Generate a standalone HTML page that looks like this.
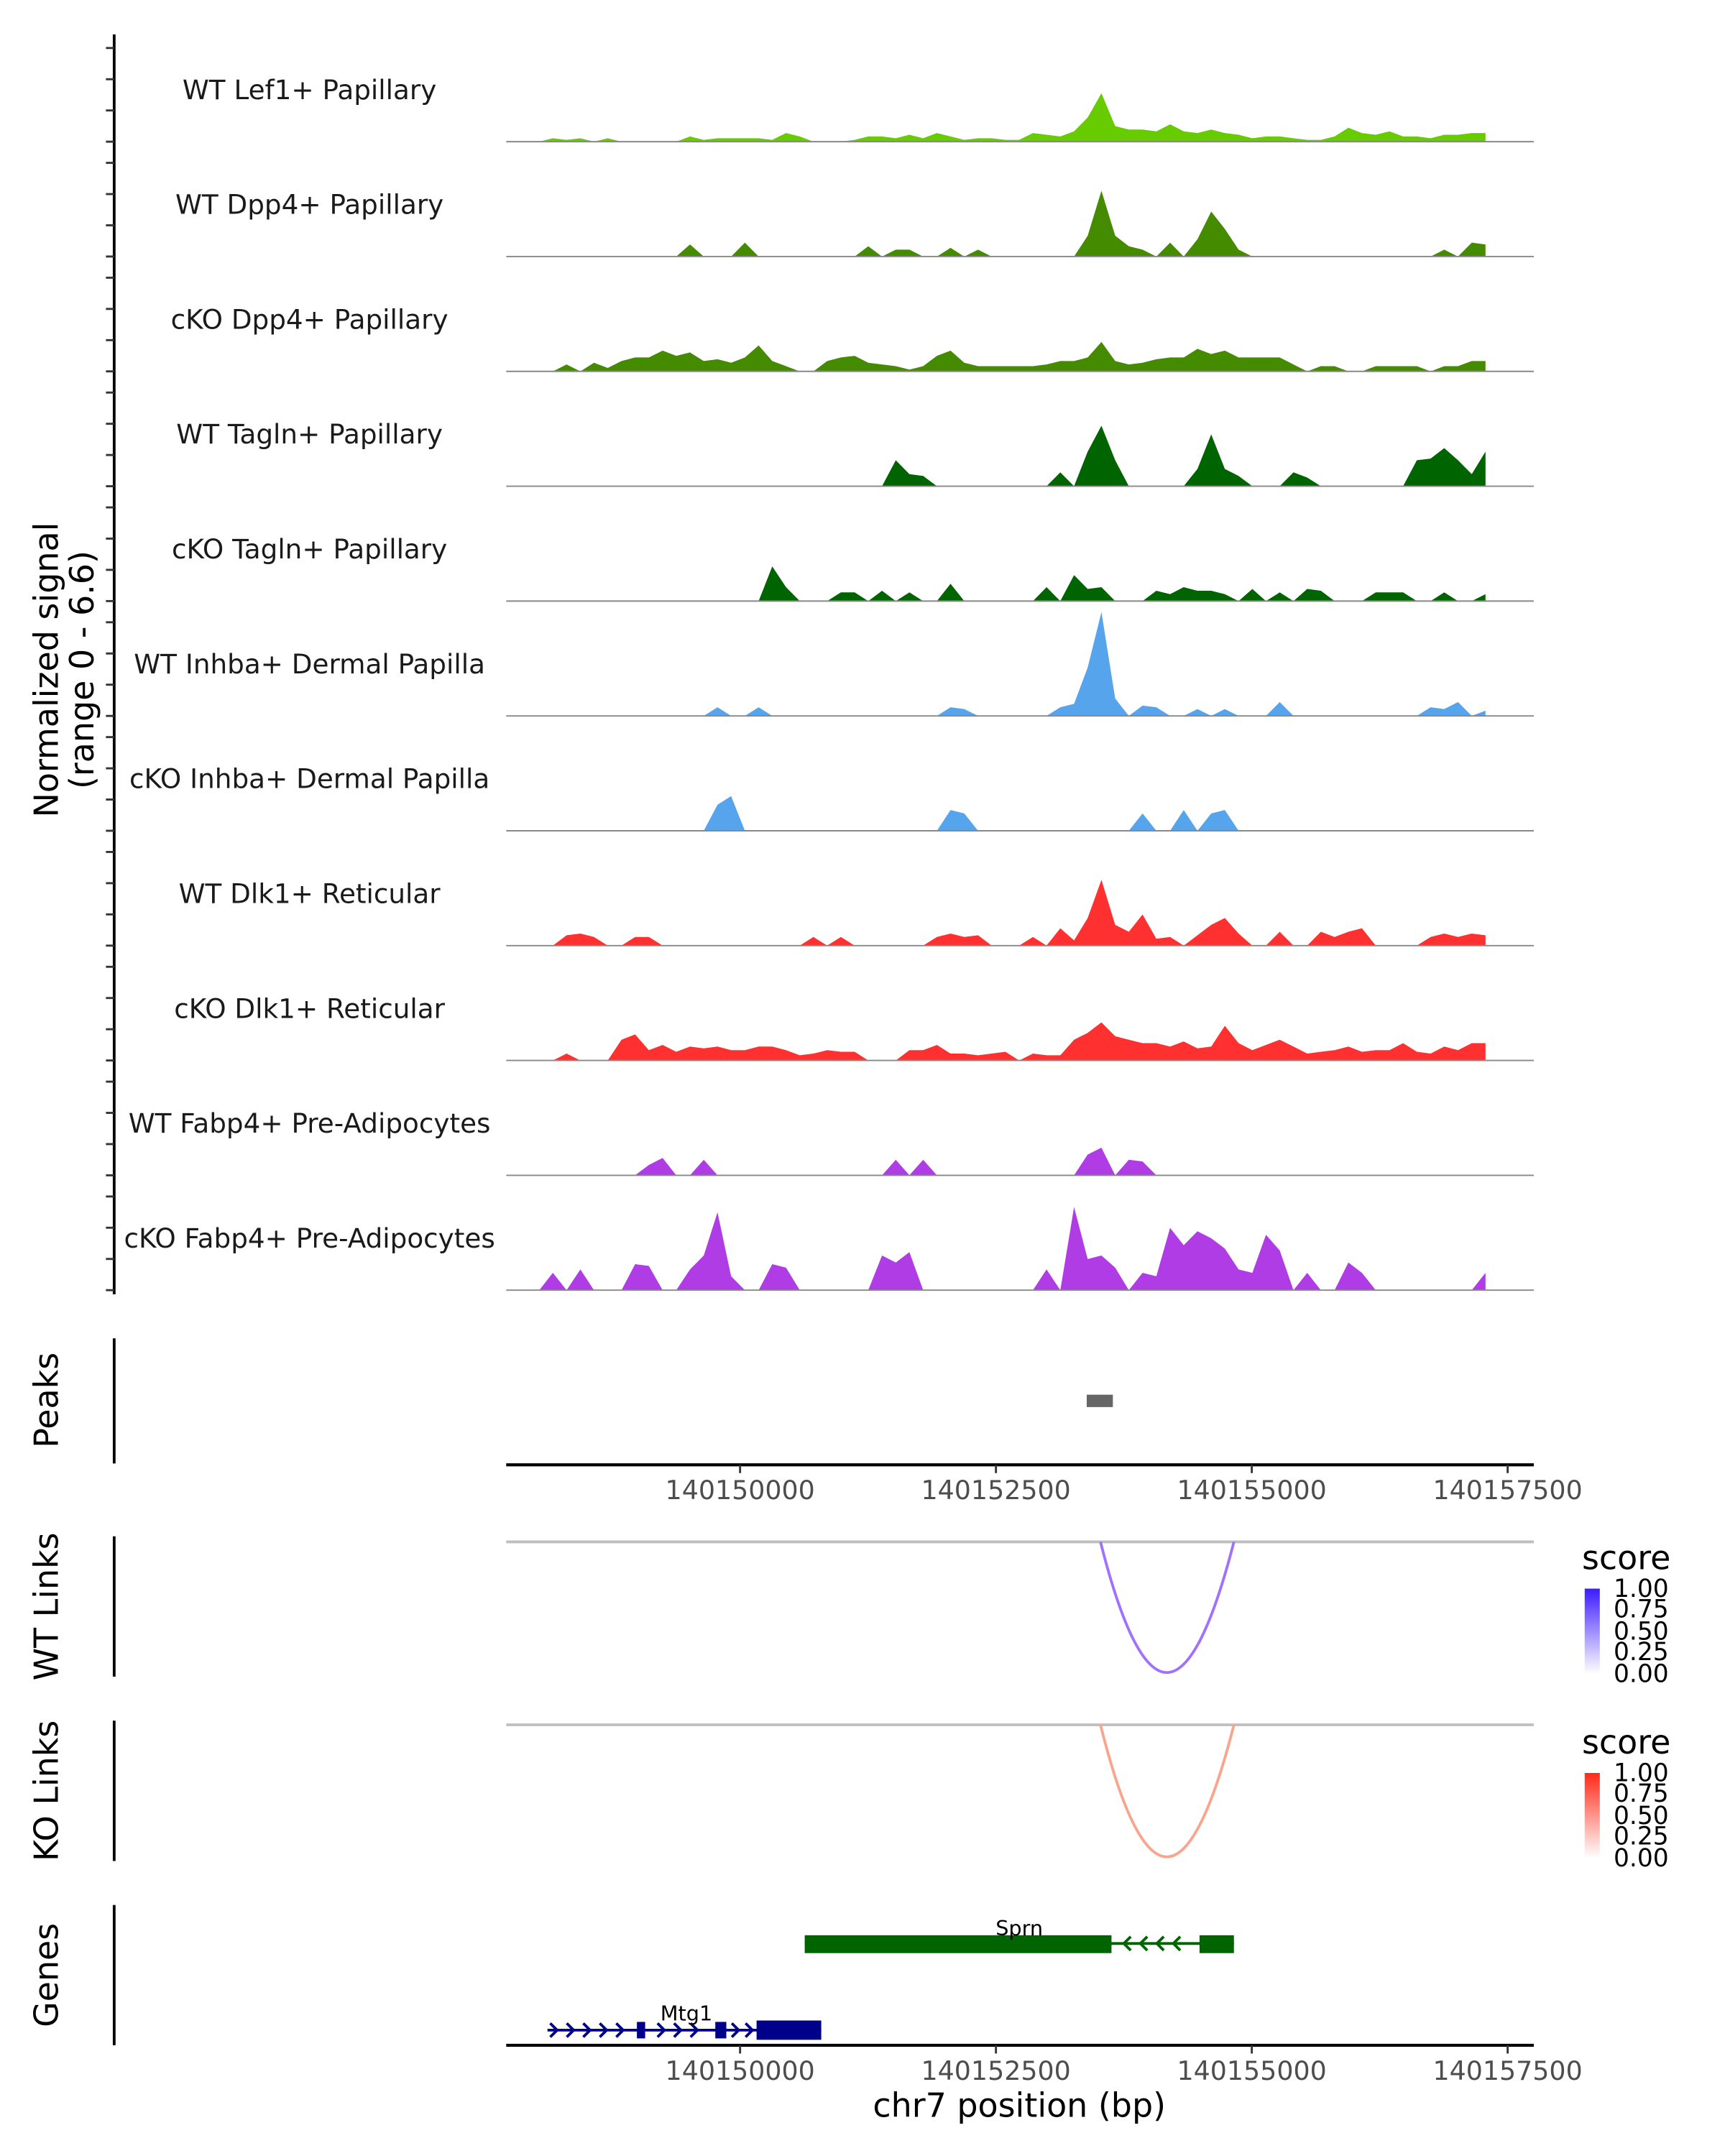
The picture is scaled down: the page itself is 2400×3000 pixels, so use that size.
<!DOCTYPE html>
<html><head><meta charset="utf-8"><style>
html,body{margin:0;padding:0;background:#fff;}
svg{display:block;font-family:"DejaVu Sans","Liberation Sans",sans-serif;}
</style></head><body>
<svg id="fig" width="2400" height="3000" viewBox="0 0 1254 1567.5" xmlns="http://www.w3.org/2000/svg">
<rect width="1254" height="1567.5" fill="#fff"/>
<g id="tracks"></g>
<g id="axes"></g>
<text transform="translate(42,487) rotate(-90)" text-anchor="middle" font-size="24" fill="#000">Normalized signal</text>
<text transform="translate(68,487) rotate(-90)" text-anchor="middle" font-size="24" fill="#000">(range 0 - 6.6)</text>

<line x1="83" y1="973" x2="83" y2="1064" stroke="#000" stroke-width="2"/>
<text transform="translate(42,1018) rotate(-90)" text-anchor="middle" font-size="24">Peaks</text>
<rect x="790" y="1014" width="19" height="9" fill="#666"/>

<line x1="83" y1="1117" x2="83" y2="1219" stroke="#000" stroke-width="2"/>
<text transform="translate(42,1168) rotate(-90)" text-anchor="middle" font-size="24">WT Links</text>
<line x1="368" y1="1121" x2="1115" y2="1121" stroke="#bebebe" stroke-width="2"/>
<path d="M800,1121 Q848,1311 897,1121" fill="none" stroke="#a070ff" stroke-width="2"/>
<text x="1150" y="1141" font-size="24">score</text>
<defs>
<linearGradient id="gb" x1="0" y1="1" x2="0" y2="0"><stop offset="0" stop-color="#fff"/><stop offset="1" stop-color="#3b1cff"/></linearGradient>
<linearGradient id="gr" x1="0" y1="1" x2="0" y2="0"><stop offset="0" stop-color="#fff"/><stop offset="1" stop-color="#ff2a1a"/></linearGradient>
</defs>
<rect x="1152" y="1155" width="11" height="62" fill="url(#gb)"/>
<g font-size="18" fill="#000">
<text x="1173" y="1161">1.00</text><text x="1173" y="1176">0.75</text><text x="1173" y="1192">0.50</text><text x="1173" y="1207">0.25</text><text x="1173" y="1223">0.00</text></g>

<line x1="83" y1="1251" x2="83" y2="1353" stroke="#000" stroke-width="2"/>
<text transform="translate(42,1302) rotate(-90)" text-anchor="middle" font-size="24">KO Links</text>
<line x1="368" y1="1254" x2="1115" y2="1254" stroke="#bebebe" stroke-width="2"/>
<path d="M800,1254 Q848,1446 897,1254" fill="none" stroke="#f9a58e" stroke-width="2"/>
<text x="1150" y="1275" font-size="24">score</text>
<rect x="1152" y="1289" width="11" height="62" fill="url(#gr)"/>
<g font-size="18" fill="#000">
<text x="1173" y="1295">1.00</text><text x="1173" y="1310">0.75</text><text x="1173" y="1326">0.50</text><text x="1173" y="1341">0.25</text><text x="1173" y="1357">0.00</text></g>

<line x1="83" y1="1385" x2="83" y2="1487" stroke="#000" stroke-width="2"/>
<text transform="translate(42,1436) rotate(-90)" text-anchor="middle" font-size="24">Genes</text>
<g fill="#006400" stroke="#006400">
<line x1="585" y1="1413" x2="897" y2="1413" stroke-width="2"/>
<rect x="585" y="1407" width="223" height="13" stroke="none"/>
<rect x="872" y="1407" width="25" height="13" stroke="none"/>
<path d="M822,1408 l-5,5 5,5 M834,1408 l-5,5 5,5 M846,1408 l-5,5 5,5 M858,1408 l-5,5 5,5" fill="none" stroke-width="2"/>
</g>
<text x="741" y="1407" text-anchor="middle" font-size="15">Sprn</text>
<g fill="#00008b" stroke="#00008b">
<line x1="398" y1="1476" x2="597" y2="1476" stroke-width="2"/>
<rect x="463" y="1470" width="6" height="12" stroke="none"/>
<rect x="520" y="1470" width="8" height="12" stroke="none"/>
<rect x="550" y="1469" width="47" height="14" stroke="none"/>
<path d="M400,1471 l5,5 -5,5 M412,1471 l5,5 -5,5 M424,1471 l5,5 -5,5 M436,1471 l5,5 -5,5 M448,1471 l5,5 -5,5 M478,1471 l5,5 -5,5 M490,1471 l5,5 -5,5 M502,1471 l5,5 -5,5 M532,1471 l5,5 -5,5 M542,1471 l5,5 -5,5" fill="none" stroke-width="2"/>
</g>
<text x="499" y="1469" text-anchor="middle" font-size="15">Mtg1</text>
<text x="741" y="1539" text-anchor="middle" font-size="24">chr7 position (bp)</text>
</svg>
<script>
const trackNames=["WT Lef1+ Papillary","WT Dpp4+ Papillary","cKO Dpp4+ Papillary","WT Tagln+ Papillary","cKO Tagln+ Papillary","WT Inhba+ Dermal Papilla","cKO Inhba+ Dermal Papilla","WT Dlk1+ Reticular","cKO Dlk1+ Reticular","WT Fabp4+ Pre-Adipocytes","cKO Fabp4+ Pre-Adipocytes"];
const trackColors=["#66cc00","#458b00","#458b00","#006400","#006400","#56a5ec","#56a5ec","#ff3030","#ff3030","#b03ce6","#b03ce6"];
const xTicks=[140150000,140152500,140155000,140157500];
const binStart=140147903, binSize=134;
const t1=[0,0,0.2,0.1,0.2,0,0.2,0,0,0, 0,0,0.3,0.1,0.2,0.2,0.2,0.2,0.1,0.5, 0.3,0,0,0,0.1,0.3,0.3,0.2,0.4,0.2, 0.5,0.3,0.1,0.2,0.2,0.1,0.1,0.5,0.4,0.3, 0.6,1.4,2.8,0.9,0.7,0.7,0.6,1.0,0.6,0.5, 0.7,0.5,0.4,0.2,0.3,0.3,0.2,0.1,0.1,0.3, 0.8,0.5,0.4,0.6,0.3,0.3,0.2,0.4,0.4,0.5, 0.5];
const t2=[0,0,0,0,0,0,0,0,0,0, 0,0,0.7,0,0,0,0.8,0,0,0, 0,0,0,0,0,0.6,0,0.4,0.4,0, 0,0.5,0,0.4,0,0,0,0,0,0, 0,1.2,3.8,1.2,0.6,0.4,0,0.8,0,1.0, 2.6,1.6,0.4,0,0,0,0,0,0,0, 0,0,0,0,0,0,0,0.4,0,0.8, 0.7];
const t3=[0,0,0,0.4,0,0.5,0.2,0.6,0.8,0.8, 1.2,0.9,1.1,0.6,0.7,0.5,0.8,1.5,0.6,0.3, 0,0,0.6,0.8,0.9,0.5,0.4,0.3,0.1,0.3, 0.9,1.2,0.5,0.3,0.3,0.3,0.3,0.3,0.4,0.6, 0.6,0.8,1.7,0.6,0.4,0.5,0.7,0.8,0.8,1.3, 1.0,1.2,0.8,0.8,0.8,0.8,0.4,0,0.3,0.3, 0,0,0.3,0.3,0.3,0.3,0,0.3,0.3,0.6, 0.6];
const t4=[0,0,0,0,0,0,0,0,0,0, 0,0,0,0,0,0,0,0,0,0, 0,0,0,0,0,0,0,1.5,0.7,0.6, 0,0,0,0,0,0,0,0,0,0.8, 0,2.0,3.5,1.5,0,0,0,0,0,1.0, 3.0,1.0,0.6,0,0,0,0.8,0.5,0,0, 0,0,0,0,0,1.5,1.6,2.2,1.5,0.7, 2.0];
const t5=[0,0,0,0,0,0,0,0,0,0, 0,0,0,0,0,0,0,0,2.0,0.8, 0,0,0,0.5,0.5,0,0.6,0,0.5,0, 0,1.0,0,0,0,0,0,0,0.8,0, 1.5,0.7,0.8,0,0,0,0.6,0.4,0.8,0.6, 0.6,0.4,0,0.7,0,0.5,0,0.7,0.6,0, 0,0,0.5,0.5,0.5,0,0,0.5,0,0, 0.4];
const t6=[0,0,0,0,0,0,0,0,0,0, 0,0,0,0,0.5,0,0,0.5,0,0, 0,0,0,0,0,0,0,0,0,0, 0,0.5,0.4,0,0,0,0,0,0,0.5, 0.7,2.8,6.0,1.0,0,0.6,0.5,0,0,0.4, 0,0.4,0,0,0,0.8,0,0,0,0, 0,0,0,0,0,0,0.5,0.4,0.8,0, 0.3];
const t7=[0,0,0,0,0,0,0,0,0,0, 0,0,0,0,1.5,2.0,0,0,0,0, 0,0,0,0,0,0,0,0,0,0, 0,1.2,1.0,0,0,0,0,0,0,0, 0,0,0,0,0,1.0,0,0,1.2,0, 1.0,1.2,0,0,0,0,0,0,0,0, 0,0,0,0,0,0,0,0,0,0, 0];
const t8=[0,0,0,0.6,0.7,0.5,0,0,0.5,0.5, 0,0,0,0,0,0,0,0,0,0, 0,0.5,0,0.5,0,0,0,0,0,0, 0.5,0.7,0.5,0.6,0,0,0,0.5,0,1.0, 0.3,1.6,3.8,1.2,0.8,1.8,0.4,0.5,0,0.6, 1.2,1.6,0.7,0,0,0.8,0,0,0.8,0.5, 0.8,1.0,0,0,0,0,0.5,0.7,0.5,0.7, 0.6];
const t9=[0,0,0,0.4,0,0,0,1.2,1.5,0.6, 0.9,0.5,0.8,0.7,0.8,0.6,0.6,0.8,0.8,0.6, 0.3,0.4,0.6,0.5,0.5,0,0,0,0.6,0.6, 0.9,0.4,0.4,0.3,0.4,0.5,0,0.4,0.3,0.3, 1.2,1.6,2.2,1.4,1.2,1.0,1.0,0.8,1.1,0.7, 0.8,2.0,1.0,0.6,0.9,1.2,0.8,0.4,0.5,0.6, 0.8,0.5,0.6,0.6,1.0,0.5,0.4,0.8,0.6,1.0, 1.0];
const t10=[0,0,0,0,0,0,0,0,0,0.6, 1.0,0,0,0.9,0,0,0,0,0,0, 0,0,0,0,0,0,0,0.9,0,0.9, 0,0,0,0,0,0,0,0,0,0, 0,1.2,1.6,0,0.9,0.8,0,0,0,0, 0,0,0,0,0,0,0,0,0,0, 0,0,0,0,0,0,0,0,0,0, 0];
const t11=[0,0,1.0,0,1.2,0,0,0,1.5,1.4, 0,0,1.2,2.0,4.5,0.8,0,0,1.5,1.3, 0,0,0,0,0,0,2.0,1.6,2.2,0, 0,0,0,0,0,0,0,0,1.2,0, 4.8,1.8,2.0,1.3,0,1.0,0.8,3.6,2.6,3.4, 3.0,2.4,1.2,1.0,3.2,2.3,0,1.0,0,0, 1.6,1.0,0,0,0,0,0,0,0,0, 1.0];
const trackValues=[t1,t2,t3,t4,t5,t6,t7,t8,t9,t10,t11];

const NS="http://www.w3.org/2000/svg";
const xScale=bp=>538+(bp-140150000)*0.0744;
const baseline=i=>103+i*83.5;
const yScale=v=>v*12.58;
const tg=document.getElementById('tracks');
const ag=document.getElementById('axes');
function mk(tag,attrs,parent){const e=document.createElementNS(NS,tag);for(const k in attrs)e.setAttribute(k,attrs[k]);parent.appendChild(e);return e;}

const ax=mk('line',{x1:83,y1:25,x2:83,y2:941,stroke:'#000','stroke-width':2},ag);


trackNames.forEach((name,i)=>{
  const b=baseline(i);
  for(let k=0;k<4;k++){
    const t=mk('line',{x1:77,x2:83,y1:b-k*22.7,y2:b-k*22.7,stroke:'#333','stroke-width':1.5},ag);
    
    
  }
  const lab=mk('text',{x:225,y:b-31,'text-anchor':'middle','font-size':19.5,fill:'#1a1a1a'},tg);
  lab.textContent=name;
  
  
  const vals=trackValues[i];
  let pts=[[xScale(binStart),b]];
  vals.forEach((v,j)=>{pts.push([xScale(binStart+j*binSize),b-yScale(v)]);});
  pts.push([xScale(binStart+(vals.length-1)*binSize),b]);
  const poly=mk('polygon',{points:pts.map(p=>p[0].toFixed(1)+','+p[1].toFixed(1)).join(' '),fill:trackColors[i]},tg);
  
  
  const bl=mk('line',{x1:368,x2:1115,y1:b,y2:b,stroke:'#888','stroke-width':1},tg);
  
  
});
[1065,1487].forEach((y,a)=>{
  const l=mk('line',{x1:368,x2:1115,y1:y,y2:y,stroke:'#000','stroke-width':2.2},ag);
  
  
  xTicks.forEach(t=>{
    const x=xScale(t);
    const tk=mk('line',{x1:x,x2:x,y1:y,y2:y+6,stroke:'#333','stroke-width':1.5},ag);
    
    
    const tl=mk('text',{x:x,y:y+25,'text-anchor':'middle','font-size':19,fill:'#4d4d4d'},ag);
    tl.textContent=String(t);
    
    
  });
});
</script>
</body></html>
